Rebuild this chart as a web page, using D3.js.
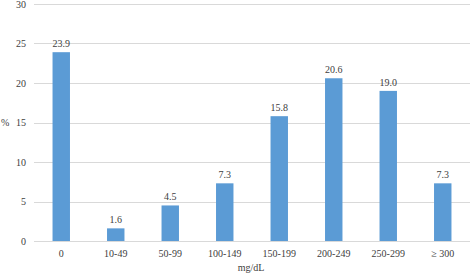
<!DOCTYPE html>
<html>
<head>
<meta charset="utf-8">
<script src="https://cdn.jsdelivr.net/npm/d3@7"></script>
<style>
  body { margin: 0; background: #fff; }
  svg text { font-family: 'Liberation Serif', 'DejaVu Serif', serif; fill: #404040; }
</style>
</head>
<body>
<svg width="473" height="278" font-family="Liberation Serif, DejaVu Serif, serif"></svg>
<script>
const categories = ['0', '10-49', '50-99', '100-149', '150-199', '200-249', '250-299', '\u2265 300'];
const percents = [23.9, 1.6, 4.5, 7.3, 15.8, 20.6, 19.0, 7.3];
const yTicks = [0, 5, 10, 15, 20, 25, 30];

var svg = d3.select('svg');

var x = d3.scaleBand().domain(categories).range([34, 470]).paddingInner(0.68).paddingOuter(0.34);
var y = d3.scaleLinear().domain([0, 30]).range([241, 4]);

// gridlines
svg.append('g')
  .selectAll('line')
  .data(yTicks)
  .enter()
  .append('line')
  .attr('x1', 34)
  .attr('x2', 470)
  .attr('y1', d => Math.round(y(d)) + 0.5)
  .attr('y2', d => Math.round(y(d)) + 0.5)
  .attr('stroke', '#d9d9d9')
  .attr('stroke-width', 1);

// y labels
svg.append('g')
  .selectAll('text')
  .data(yTicks)
  .enter()
  .append('text')
  .attr('x', 26)
  .attr('y', d => y(d) + 3.5)
  .attr('text-anchor', 'end')
  .attr('font-size', 10)
  .text(d => d);

svg.append('text')
  .attr('x', 1)
  .attr('y', 125.5)
  .attr('font-size', 10)
  .text('%');

svg.append('g')
  .selectAll('rect')
  .data(percents)
  .enter()
  .append('rect')
  .attr('x', (d, i) => x(categories[i]))
  .attr('width', x.bandwidth())
  .attr('y', d => y(d))
  .attr('height', d => y(0) - y(d))
  .attr('fill', '#5b9bd5');

svg.append('g')
  .selectAll('text')
  .data(percents)
  .enter()
  .append('text')
  .attr('x', (d, i) => x(categories[i]) + x.bandwidth() / 2)
  .attr('y', d => y(d) - 5)
  .attr('text-anchor', 'middle')
  .attr('font-size', 10)
  .text(d => d.toFixed(1));

svg.append('g')
  .selectAll('text')
  .data(categories)
  .enter()
  .append('text')
  .attr('x', d => x(d) + x.bandwidth() / 2)
  .attr('y', 256.5)
  .attr('text-anchor', 'middle')
  .attr('font-size', 10)
  .text(d => d);

svg.append('text')
  .attr('x', 251)
  .attr('y', 271)
  .attr('text-anchor', 'middle')
  .attr('font-size', 10)
  .text('mg/dL');
</script>
</body>
</html>
